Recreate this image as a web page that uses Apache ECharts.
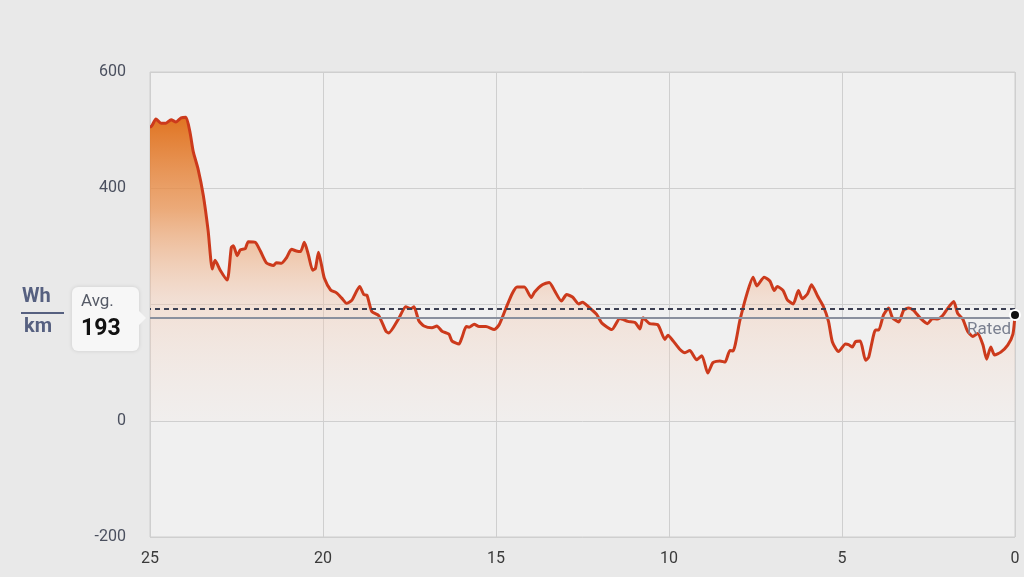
<!DOCTYPE html>
<html>
<head>
<meta charset="utf-8">
<script src="https://cdn.jsdelivr.net/npm/echarts@6/dist/echarts.min.js"></script>
<style>
html,body{margin:0;padding:0;background:#e9e9e9;}
#c{width:1024px;height:577px;}
</style>
</head>
<body>
<div id="c"></div>
<script>
// distance remaining (km) and consumption (Wh/km)
const distKm = [25.0,24.97,24.83,24.68,24.54,24.39,24.25,24.10,23.96,23.84,23.75,23.61,23.46,23.32,23.20,23.12,22.97,22.77,22.65,22.59,22.48,22.39,22.25,22.16,21.96,21.81,21.64,21.43,21.35,21.20,21.06,20.91,20.77,20.65,20.54,20.42,20.30,20.22,20.13,20.04,19.96,19.78,19.61,19.46,19.32,19.17,18.94,18.82,18.73,18.59,18.39,18.18,18.10,17.81,17.61,17.46,17.37,17.23,17.08,16.85,16.71,16.56,16.36,16.27,16.07,15.98,15.86,15.78,15.63,15.49,15.29,15.05,14.91,14.71,14.53,14.39,14.18,13.98,13.89,13.66,13.46,13.31,13.11,12.96,12.79,12.61,12.50,12.29,12.09,11.94,11.65,11.42,11.19,10.98,10.84,10.75,10.56,10.32,10.12,10.03,9.89,9.69,9.54,9.40,9.20,9.05,8.88,8.73,8.53,8.38,8.24,8.15,7.95,7.74,7.57,7.46,7.25,7.08,6.96,6.87,6.70,6.58,6.41,6.26,6.15,6.00,5.88,5.71,5.54,5.39,5.28,5.10,4.90,4.81,4.70,4.61,4.47,4.32,4.23,4.03,3.94,3.80,3.65,3.54,3.36,3.22,3.08,2.93,2.73,2.53,2.38,2.24,2.09,1.95,1.77,1.66,1.51,1.37,1.22,1.08,0.93,0.82,0.70,0.59,0.41,0.21,0.06,0.0];
const whPerKm = [506,506,519,512,512,518,514,521,522,495,463,433,388,327,261,276,259,242,298,301,284,294,296,308,307,292,272,267,272,271,280,295,292,291,307,285,259,262,290,267,245,225,220,211,202,207,231,217,216,188,181,154,151,176,196,193,196,172,163,160,163,154,149,137,132,144,162,161,166,162,162,157,165,194,219,230,230,212,221,234,238,224,206,217,213,201,204,194,183,168,157,176,171,169,158,177,167,165,140,147,138,123,117,121,105,112,82,100,103,101,121,120,173,220,247,232,247,240,224,231,224,208,201,224,210,218,234,215,197,171,136,119,132,131,127,136,137,104,109,156,156,182,194,177,170,190,194,190,176,167,176,175,181,193,205,185,175,154,145,150,131,106,127,113,118,130,149,182];
const yTicks = [-200, 0, 200, 400, 600];
const xTicks = [25, 20, 15, 10, 5, 0];
const avgValue = 193;
const ratedValue = 178;
const unitTop = 'Wh';
const unitBottom = 'km';
const avgLabel = 'Avg.';
const ratedLabel = 'Rated';

const seriesData = distKm.map((d, i) => [d, whPerKm[i]]);

const chart = echarts.init(document.getElementById('c'), null, {renderer: 'canvas'});
chart.setOption({
  backgroundColor: '#e9e9e9',
  animation: false,
  grid: {
    left: 150, right: 9, top: 72, bottom: 40,
    show: true, backgroundColor: '#f0f0f0', borderColor: '#cfcfcf', borderWidth: 1
  },
  xAxis: {
    type: 'value', inverse: true, min: 0, max: 25, interval: 5,
    axisLine: {show: false}, axisTick: {show: false},
    splitLine: {show: true, lineStyle: {color: '#cfcfcf', width: 1}},
    axisLabel: {color: '#3a3a3a', fontSize: 16, margin: 14, fontFamily: 'Roboto',
      formatter: v => xTicks.includes(v) ? String(v) : ''}
  },
  yAxis: {
    type: 'value', min: -200, max: 600, interval: 200,
    axisLine: {show: false}, axisTick: {show: false},
    splitLine: {show: true, lineStyle: {color: '#cfcfcf', width: 1}},
    axisLabel: {color: '#4a4f5e', fontSize: 16, margin: 24, fontFamily: 'Roboto',
      formatter: v => yTicks.includes(v) ? String(v) : ''}
  },
  series: [{
    type: 'line',
    data: seriesData,
    showSymbol: false,
    smooth: 0.2,
    lineStyle: {color: '#cc3a1c', width: 3},
    areaStyle: {
      opacity: 1,
      color: new echarts.graphic.LinearGradient(0, 0, 0, 1, [
        {offset: 0, color: 'rgba(224,116,34,1)'},
        {offset: 0.3, color: 'rgba(234,146,80,0.75)'},
        {offset: 0.6, color: 'rgba(244,196,168,0.4)'},
        {offset: 1, color: 'rgba(246,225,215,0.12)'}
      ])
    },
    markLine: {
      silent: true, symbol: 'none',
      data: [
        {yAxis: avgValue, lineStyle: {color: '#3b3f52', type: [5, 4], width: 2}, label: {show: false}},
        {yAxis: ratedValue, lineStyle: {color: '#8a909e', type: 'solid', width: 2},
          label: {show: true, formatter: ratedLabel, position: 'insideStartBottom',
            color: '#7a8090', fontSize: 17, fontFamily: 'Roboto', distance: [4, 4]}}
      ]
    },
    markPoint: {
      silent: true,
      symbol: 'circle', symbolSize: 10,
      itemStyle: {color: '#111', borderColor: '#fff', borderWidth: 2},
      label: {show: false},
      data: [{coord: [distKm[distKm.length - 1], whPerKm[whPerKm.length - 1]]}]
    }
  }],
  graphic: [
    {type: 'text', z: 100, left: 22, top: 287,
      style: {text: unitTop, fill: '#566080', font: 'bold 20px Roboto'}},
    {type: 'rect', z: 100, shape: {x: 21, y: 312, width: 43, height: 2}, style: {fill: '#566080'}},
    {type: 'text', z: 100, left: 24, top: 317,
      style: {text: unitBottom, fill: '#566080', font: 'bold 20px Roboto'}},
    {type: 'rect', z: 100, shape: {x: 72, y: 287, width: 67, height: 64, r: 6},
      style: {fill: '#f7f7f7', shadowBlur: 4, shadowColor: 'rgba(0,0,0,0.12)'}},
    {type: 'polygon', z: 101, shape: {points: [[138, 310], [146, 318], [138, 326]]},
      style: {fill: '#f7f7f7'}},
    {type: 'text', z: 102, left: 81, top: 293,
      style: {text: avgLabel, fill: '#555a66', font: '17px Roboto'}},
    {type: 'text', z: 102, left: 81, top: 318,
      style: {text: String(avgValue), fill: '#111', font: 'bold 23px Roboto'}}
  ]
});
</script>
</body>
</html>
